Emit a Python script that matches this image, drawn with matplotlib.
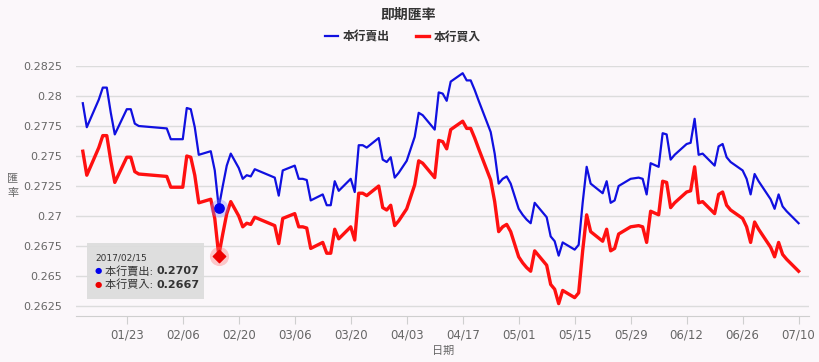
import matplotlib
matplotlib.use("Agg")
import matplotlib.pyplot as plt
import matplotlib.dates as mdates
from matplotlib.patches import Rectangle
from matplotlib.ticker import FuncFormatter
import pandas as pd

plt.rcParams['font.family'] = ['DejaVu Sans', 'Noto Sans CJK TC']

# 資料 (2017)
fechas = (
    ["01-12", "01-13", "01-16", "01-17", "01-18", "01-19", "01-20", "01-23", "01-24", "01-25", "01-26"]
    + ["02-02", "02-03", "02-06", "02-07", "02-08", "02-09", "02-10", "02-13", "02-14", "02-15",
       "02-16", "02-17", "02-18", "02-20", "02-21", "02-22", "02-23", "02-24"]
    + ["03-01", "03-02", "03-03", "03-06", "03-07", "03-08", "03-09", "03-10", "03-13", "03-14",
       "03-15", "03-16", "03-17", "03-20", "03-21", "03-22", "03-23", "03-24", "03-27", "03-28",
       "03-29", "03-30", "03-31"]
    + ["04-01", "04-03", "04-05", "04-06", "04-07", "04-10", "04-11", "04-12", "04-13", "04-14",
       "04-17", "04-18", "04-19", "04-20", "04-21", "04-24", "04-25", "04-26", "04-27", "04-28", "04-29"]
    + ["05-01", "05-02", "05-03", "05-04", "05-05", "05-08", "05-09", "05-10", "05-11", "05-12",
       "05-15", "05-16", "05-17", "05-18", "05-19", "05-22", "05-23", "05-24", "05-25", "05-26",
       "05-29", "05-31"]
    + ["06-01", "06-02", "06-03", "06-05", "06-06", "06-07", "06-08", "06-09", "06-12", "06-13",
       "06-14", "06-15", "06-16", "06-19", "06-20", "06-21", "06-22", "06-23", "06-26", "06-27",
       "06-28", "06-29", "06-30"]
    + ["07-03", "07-04", "07-05", "07-06", "07-07", "07-10"]
)

venta = (  # 本行賣出
    [0.2794, 0.2774, 0.2797, 0.2807, 0.2807, 0.2786, 0.2768, 0.2789, 0.2789, 0.2777, 0.2775]
    + [0.2773, 0.2764, 0.2764, 0.2790, 0.2789, 0.2774, 0.2751, 0.2754, 0.2738, 0.2707,
       0.2725, 0.2742, 0.2752, 0.2740, 0.2731, 0.2734, 0.2733, 0.2739]
    + [0.2732, 0.2717, 0.2738, 0.2742, 0.2731, 0.2731, 0.2730, 0.2713, 0.2718, 0.2709,
       0.2709, 0.2729, 0.2721, 0.2731, 0.2720, 0.2759, 0.2759, 0.2757, 0.2765, 0.2747,
       0.2745, 0.2749, 0.2732]
    + [0.2736, 0.2746, 0.2766, 0.2786, 0.2784, 0.2772, 0.2803, 0.2802, 0.2796, 0.2812,
       0.2819, 0.2813, 0.2813, 0.2805, 0.2796, 0.2770, 0.2752, 0.2727, 0.2731, 0.2733, 0.2727]
    + [0.2706, 0.2701, 0.2697, 0.2694, 0.2711, 0.2699, 0.2683, 0.2679, 0.2667, 0.2678,
       0.2672, 0.2676, 0.2711, 0.2741, 0.2727, 0.2719, 0.2729, 0.2711, 0.2713, 0.2725,
       0.2731, 0.2732]
    + [0.2731, 0.2718, 0.2744, 0.2741, 0.2769, 0.2768, 0.2747, 0.2751, 0.2760, 0.2761,
       0.2781, 0.2751, 0.2752, 0.2742, 0.2758, 0.2760, 0.2749, 0.2745, 0.2738, 0.2731,
       0.2718, 0.2735, 0.2729]
    + [0.2714, 0.2706, 0.2718, 0.2708, 0.2704, 0.2694]
)

compra = (  # 本行買入
    [0.2754, 0.2734, 0.2757, 0.2767, 0.2767, 0.2746, 0.2728, 0.2749, 0.2749, 0.2737, 0.2735]
    + [0.2733, 0.2724, 0.2724, 0.2750, 0.2749, 0.2734, 0.2711, 0.2714, 0.2698, 0.2667,
       0.2685, 0.2702, 0.2712, 0.2700, 0.2691, 0.2694, 0.2693, 0.2699]
    + [0.2692, 0.2677, 0.2698, 0.2702, 0.2691, 0.2691, 0.2690, 0.2673, 0.2678, 0.2669,
       0.2669, 0.2689, 0.2681, 0.2691, 0.2680, 0.2719, 0.2719, 0.2717, 0.2725, 0.2707,
       0.2705, 0.2709, 0.2692]
    + [0.2696, 0.2706, 0.2726, 0.2746, 0.2744, 0.2732, 0.2763, 0.2762, 0.2756, 0.2772,
       0.2779, 0.2773, 0.2773, 0.2765, 0.2756, 0.2730, 0.2712, 0.2687, 0.2691, 0.2693, 0.2687]
    + [0.2666, 0.2661, 0.2657, 0.2654, 0.2671, 0.2659, 0.2643, 0.2639, 0.2627, 0.2638,
       0.2632, 0.2636, 0.2671, 0.2701, 0.2687, 0.2679, 0.2689, 0.2671, 0.2673, 0.2685,
       0.2691, 0.2692]
    + [0.2691, 0.2678, 0.2704, 0.2701, 0.2729, 0.2728, 0.2707, 0.2711, 0.2720, 0.2721,
       0.2741, 0.2711, 0.2712, 0.2702, 0.2718, 0.2720, 0.2709, 0.2705, 0.2698, 0.2691,
       0.2678, 0.2695, 0.2689]
    + [0.2674, 0.2666, 0.2678, 0.2668, 0.2664, 0.2654]
)

ticks_x = ["01-23", "02-06", "02-20", "03-06", "03-20", "04-03", "04-17",
           "05-01", "05-15", "05-29", "06-12", "06-26", "07-10"]
ticks_y = [0.2625, 0.265, 0.2675, 0.27, 0.2725, 0.275, 0.2775, 0.28, 0.2825]
fecha_tooltip = "02-15"

df = pd.DataFrame({"fecha": pd.to_datetime(["2017-" + f for f in fechas]),
                   "venta": venta, "compra": compra})

fondo = "#fbf7fa"
azul = "#1010e0"
rojo = "#ff1010"

fig = plt.figure(figsize=(8.2, 3.62), dpi=100, facecolor=fondo)
ax = fig.add_axes([76 / 820, 1 - 316 / 362, 733 / 820, 250 / 362])
ax.set_facecolor(fondo)

ax.plot(df["fecha"], df["venta"], color=azul, lw=1.6, label="本行賣出", zorder=3,
        solid_joinstyle="round")
ax.plot(df["fecha"], df["compra"], color=rojo, lw=2.4, label="本行買入", zorder=3,
        solid_joinstyle="round")

# punto seleccionado
fila = df[df["fecha"] == pd.Timestamp("2017-" + fecha_tooltip)].iloc[0]
ax.scatter([fila["fecha"]], [fila["venta"]], s=170, color="#8888ff", alpha=0.35, lw=0, zorder=4)
ax.scatter([fila["fecha"]], [fila["venta"]], s=45, color="#0000ee", zorder=5)
ax.scatter([fila["fecha"]], [fila["compra"]], s=190, color="#ff7070", alpha=0.35, lw=0, zorder=4)
ax.scatter([fila["fecha"]], [fila["compra"]], s=40, marker="D", color="#ee0000", zorder=5)

base = pd.Timestamp("2017-01-23")
ax.set_xlim(mdates.date2num(base) - 12.7, mdates.date2num(base) + 170.6)
ax.set_ylim(0.26167, 0.2825)

ax.set_yticks(ticks_y)
ax.yaxis.set_major_formatter(FuncFormatter(lambda v, p: f"{v:.4f}".rstrip("0").rstrip(".")))
ax.set_xticks([pd.Timestamp("2017-" + t) for t in ticks_x])
ax.set_xticklabels([t.replace("-", "/") for t in ticks_x])

ax.grid(axis="y", color="#dcdcdc", lw=1)
ax.set_axisbelow(True)
for s in ["top", "right", "left"]:
    ax.spines[s].set_visible(False)
ax.spines["bottom"].set_color("#cfcfcf")
ax.tick_params(axis="y", length=0, pad=10, labelsize=8, labelcolor="#666666")
ax.tick_params(axis="x", length=6, color="#cfcfcf", pad=3, labelsize=8.5, labelcolor="#666666")

# eje y: texto vertical, un carácter por línea
for k, car in enumerate("匯率"):
    fig.text(13 / 820, 1 - (178 + 15 * k) / 362, car, ha="center", va="center",
             fontsize=8, color="#666666")
fig.text(443 / 820, 1 - 351 / 362, "日期", ha="center", va="center", fontsize=8, color="#666666")
fig.text(408 / 820, 1 - 15 / 362, "即期匯率", ha="center", va="center",
         fontsize=10, color="#333333", fontweight="bold")
fig.legend(loc="center", bbox_to_anchor=(403 / 820, 1 - 37 / 362), ncol=2, frameon=False,
           handlelength=1.1, handletextpad=0.4, columnspacing=2.2,
           labelcolor="#333333", prop={"weight": "bold", "size": 8.5})

# tooltip
fig.patches.append(Rectangle((87 / 820, 1 - 299 / 362), 117 / 820, 56 / 362,
                             transform=fig.transFigure, facecolor="#dddddd",
                             edgecolor="none", alpha=0.95, zorder=10))
fig.text(95 / 820, 1 - 258 / 362, "2017/" + fecha_tooltip.replace("-", "/"),
         fontsize=6.5, color="#333333", va="center", zorder=11)
fila_y = [(1 - 271 / 362, "#0000ee", "本行賣出", fila["venta"]),
          (1 - 285 / 362, "#ee0000", "本行買入", fila["compra"])]
for yy, col, nom, val in fila_y:
    fig.text(95 / 820, yy, "●", fontsize=6, color=col, va="center", zorder=11)
    fig.text(105 / 820, yy, nom + ": ", fontsize=8, color="#333333", va="center", zorder=11)
    fig.text(157 / 820, yy, f"{val:.4f}", fontsize=8, color="#333333",
             fontweight="bold", va="center", zorder=11)

fig.savefig("out.png", dpi=100, facecolor=fondo)
